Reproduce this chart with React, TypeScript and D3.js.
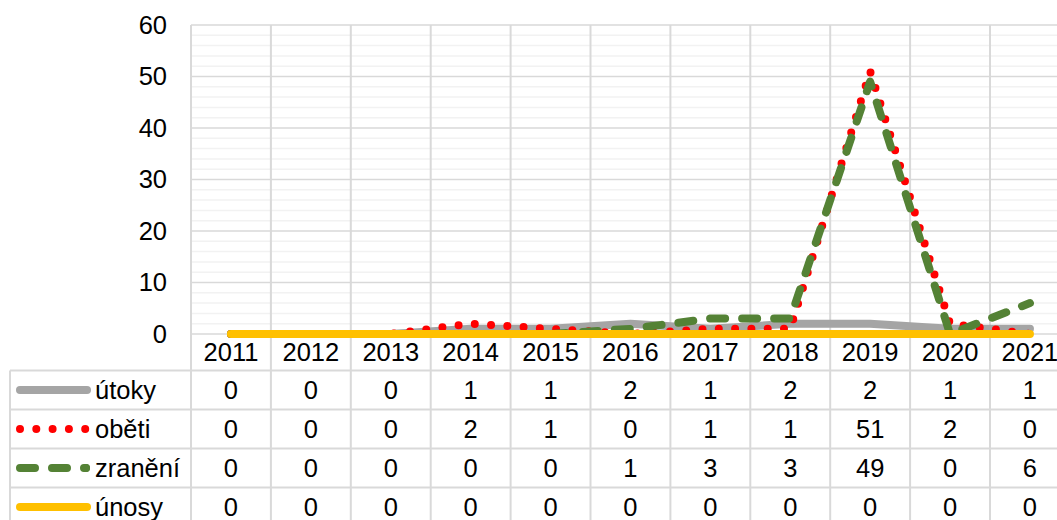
import React from "react";
import * as d3 from "d3";

const years = ["2011","2012","2013","2014","2015","2016","2017","2018","2019","2020","2021"];
const utoky = [0,0,0,1,1,2,1,2,2,1,1];
const obeti = [0,0,0,2,1,0,1,1,51,2,0];
const zraneni = [0,0,0,0,0,1,3,3,49,0,6];
const unosy = [0,0,0,0,0,0,0,0,0,0,0];
const yTicks = [0,10,20,30,40,50,60];
const minorTicks = d3.range(0, 61, 2);

const seriesDefs = [
  { name: "útoky", values: utoky, color: "#a5a5a5", width: 8, dash: undefined as string | undefined },
  { name: "oběti", values: obeti, color: "#ff0000", width: 8, dash: "0 16.3" },
  { name: "zranění", values: zraneni, color: "#548235", width: 8, dash: "15 17" },
  { name: "únosy", values: unosy, color: "#ffc000", width: 8, dash: undefined as string | undefined },
];

export default function App() {
  const W = 1057, H = 520;
  const left = 191, catW = 79.9;
  const x = d3.scaleBand<string>().domain(years).range([left, left + catW * years.length]).padding(0);
  const y = d3.scaleLinear().domain([0, 60]).range([334, 25]);
  const cx = (d: string) => (x(d) as number) + x.bandwidth() / 2;
  const rowTop = 370.5, rowH = 39;
  const font = "'Liberation Sans', Arial, sans-serif";
  const fs = 25.5;
  const line = d3.line<number>().x((_, i) => cx(years[i])).y(v => y(v));
  const grid = "#d9d9d9";
  const rightEdge = left + catW * years.length;

  return (
    <svg width={W} height={H} style={{ position: "absolute", left: 0, top: 0, background: "#fff" }} fontFamily={font}>
      {minorTicks.filter(t => t % 10 !== 0).map(t => (
        <line key={"m" + t} x1={left} x2={rightEdge} y1={y(t)} y2={y(t)} stroke="#f2f2f2" strokeWidth={1.5} />
      ))}
      {yTicks.map(t => (
        <line key={"g" + t} x1={left} x2={rightEdge} y1={y(t)} y2={y(t)} stroke={grid} strokeWidth={1.5} />
      ))}
      {d3.range(years.length + 1).map(i => (
        <line key={"v" + i} x1={left + i * catW} x2={left + i * catW} y1={y(60)} y2={H} stroke={grid} strokeWidth={2} />
      ))}
      {d3.range(5).map(i => (
        <line key={"h" + i} x1={10} x2={rightEdge} y1={rowTop + i * rowH} y2={rowTop + i * rowH} stroke={grid} strokeWidth={2} />
      ))}
      <line x1={10} x2={10} y1={rowTop} y2={H} stroke={grid} strokeWidth={2} />
      {yTicks.map(t => (
        <text key={"t" + t} x={167} y={y(t)} dy="0.35em" textAnchor="end" fontSize={fs} fill="#000">{t}</text>
      ))}
      {years.map(yr => (
        <text key={"y" + yr} x={cx(yr)} y={352.5} dy="0.35em" textAnchor="middle" fontSize={fs} fill="#000">{yr}</text>
      ))}
      {seriesDefs.map(s => (
        <path key={"l" + s.name} d={line(s.values) || ""} fill="none" stroke={s.color} strokeWidth={s.width}
          strokeDasharray={s.dash} strokeLinecap="round" strokeLinejoin="round" />
      ))}
      {seriesDefs.map((s, r) => {
        const cy = rowTop + r * rowH + rowH / 2;
        return (
          <g key={"r" + s.name}>
            <line x1={20} x2={s.dash === "15 17" ? 86 : 87} y1={cy} y2={cy} stroke={s.color}
              strokeWidth={s.width} strokeDasharray={s.dash} strokeLinecap="round" />
            {s.dash === "15 17" && <circle cx={86} cy={cy} r={4} fill={s.color} />}
            <text x={95} y={cy} dy="0.35em" fontSize={fs} fill="#000">{s.name}</text>
            {s.values.map((v, i) => (
              <text key={i} x={cx(years[i])} y={cy} dy="0.35em" textAnchor="middle" fontSize={fs} fill="#000">{v}</text>
            ))}
          </g>
        );
      })}
    </svg>
  );
}
